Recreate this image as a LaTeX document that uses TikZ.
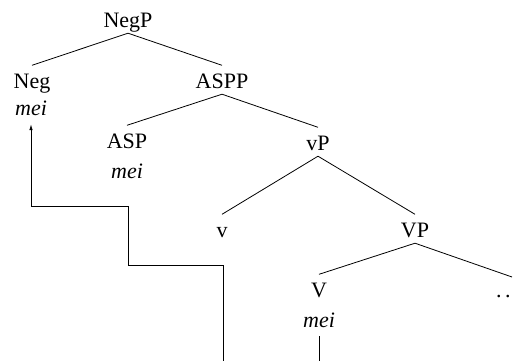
\documentclass[tikz,border=0pt]{standalone}
\usepackage{fontspec}
\setmainfont{Liberation Serif}
\usetikzlibrary{arrows.meta}
\begin{document}
\begin{tikzpicture}[x=1pt,y=1pt,
  cat/.style={font=\fontsize{22}{26}\selectfont, text height=22.5pt, text depth=6pt,
              inner xsep=0pt, inner ysep=0pt, anchor=base},
  lex/.style={font=\fontsize{22}{26}\selectfont\itshape, text height=14pt, text depth=0pt,
              inner xsep=0pt, inner ysep=9pt, anchor=base},
  branch/.style={line width=0.8pt},
  movement/.style={line width=0.8pt, -{Latex[length=6pt,width=3.5pt]}}]
\useasboundingbox (0,0) rectangle (513,360);
\clip (0,0) rectangle (513,360);

% tree labels
\node[cat] (NegP) at (128,333) {NegP};
\node[cat] (Neg)  at (32,272)  {Neg};
\node[cat] (ASPP) at (222,272) {ASPP};
\node[cat] (ASP)  at (127,212) {ASP};
\node[cat] (vP)   at (318,210) {vP};
\node[cat] (v)    at (222,123) {v};
\node[cat] (VP)   at (415,123) {VP};
\node[cat] (V)    at (319,63)  {V};
\node[cat, anchor=base west] (rest) at (496,63) {.\kern3.5pt.};
\coordinate (restTop) at (512,83);

% lexical items
\node[lex] (NegMei) at (31,245)  {mei};
\node[lex] (ASPMei) at (127,182) {mei};
\node[lex] (VMei)   at (319,33)  {mei};

% branches
\draw[branch] (NegP.south) -- (Neg.north);
\draw[branch] (NegP.south) -- (ASPP.north);
\draw[branch] (ASPP.south) -- (ASP.north);
\draw[branch] (ASPP.south) -- (vP.north);
\draw[branch] (vP.south) -- (v.north);
\draw[branch] (vP.south) -- (VP.north);
\draw[branch] (VP.south) -- (V.north);
\draw[branch] (VP.south) -- (restTop);

% head movement path
\coordinate (low) at (223,-15);
\coordinate (stepA) at (223,95);
\coordinate (stepB) at (128,154);
\draw[movement] (VMei.south) -- (VMei.south |- low) -| (stepA) -| (stepB) -| (NegMei.south);
\end{tikzpicture}
\end{document}
